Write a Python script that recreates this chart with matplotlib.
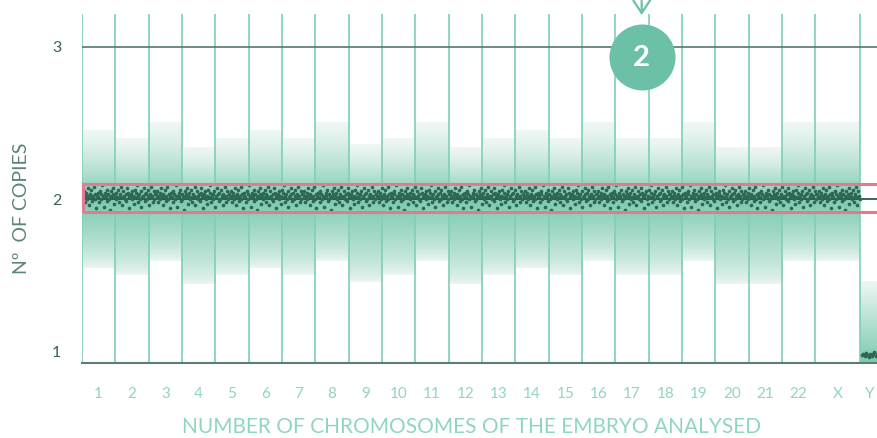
import matplotlib
matplotlib.use("Agg")
import matplotlib.pyplot as plt
import numpy as np
from matplotlib.colors import LinearSegmentedColormap
from matplotlib.patches import Rectangle

# Chromosome data
chromosomes = [str(i) for i in range(1, 23)] + ["X", "Y"]
# left / right edge of each chromosome column (in chromosome-width units)
col_left = list(range(0, 22)) + [22, 23.35]
col_right = list(range(1, 23)) + [23.35, 23.85]

# upper / lower edge of the gradient band around 2 copies
band_top = [2.45, 2.40, 2.50, 2.34, 2.40, 2.45, 2.40, 2.50, 2.355, 2.40, 2.50,
            2.34, 2.40, 2.45, 2.40, 2.50, 2.40, 2.40, 2.50, 2.34, 2.34, 2.50, 2.50]
band_bottom = [1.55, 1.50, 1.59, 1.44, 1.50, 1.55, 1.50, 1.59, 1.455, 1.50, 1.59,
               1.44, 1.50, 1.55, 1.50, 1.59, 1.50, 1.50, 1.59, 1.44, 1.44, 1.59, 1.59]
y_band_top = 1.46  # Y chromosome, single copy

# copy-number dot offsets (hundredths around 2 copies)
dot_offsets = [3, 1, 5, -2, 2, 4, 0, 7, 2, -4, 3, 1, 6, -1, 2, 8, 0, 3, -6, 2,
               4, 1, -2, 5, 3, 0, 9, 2, -5, 1, 4, 2, 6, -1, 3, 0, 2, -7, 5, 1,
               3, 7, -3, 2, 4, 0, 1, 6, -2, 3, 2, 8, -4, 1, 5, 2, 0, 3, -1, 7,
               4, 2, -6, 1, 3, 5, 0, 2, -3, 6, 1, 4, 9, -2, 2, 3, 0, 5, -5, 1,
               2, 7, 3, -1, 4, 0, 6, 2, -4, 3, 1, 8, 2, -2, 5, 0, 3]
y_dots = [0.975, 0.985, 0.97, 0.99, 0.975, 0.965, 0.985, 0.97, 0.98, 0.995,
          0.97, 0.98]

dots_per_col = 44

teal = "#6cc0a8"
pale = "#eef7f3"
strong = "#7ccab0"
dot_color = "#2f6654"

fig = plt.figure(figsize=(8.77, 4.38), dpi=100)
ax = fig.add_axes([82 / 877, 75 / 438, 795 / 877, 349 / 438])
ax.set_xlim(0, 23.85)
ax.set_ylim(0.923, 3.215)

cmap = LinearSegmentedColormap.from_list("band", [pale, strong])
n = 200
frac = np.linspace(0, 1, n)  # 0 at the row nearest y=2

# gradient bands (origin lower: row 0 at the bottom of each extent)
for i in range(23):
    x0, x1 = col_left[i], col_right[i]
    up = ((1 - frac) ** 1.3).reshape(-1, 1)
    ax.imshow(up, extent=[x0, x1, 2, band_top[i]], origin="lower", cmap=cmap,
              vmin=0, vmax=1, aspect="auto", zorder=1, interpolation="bilinear")
    down = ((1 - frac[::-1]) ** 0.7).reshape(-1, 1)
    ax.imshow(down, extent=[x0, x1, band_bottom[i], 2], origin="lower", cmap=cmap,
              vmin=0, vmax=1, aspect="auto", zorder=1, interpolation="bilinear")
yb = ((1 - frac) ** 1.0).reshape(-1, 1)
ax.imshow(yb, extent=[col_left[23], col_right[23], 0.923, y_band_top],
          origin="lower", cmap=cmap, vmin=0, vmax=1, aspect="auto", zorder=1,
          interpolation="bilinear")

# column separators
ax.vlines(col_left, 0.923, 3.215, color="#7fcfb4", lw=1.2, zorder=2)

# reference lines
ax.axhline(3, color="#55786b", lw=1.2, zorder=2)
ax.axhline(2, color="#1d4a3c", lw=1.2, zorder=3)

# dots
xs, ys = [], []
k = 0
for i in range(23):
    x0, x1 = col_left[i], col_right[i]
    m = int(round(dots_per_col * (x1 - x0)))
    for j in range(m):
        xs.append(x0 + (j + 0.5) * (x1 - x0) / m)
        ys.append(2 + dot_offsets[k % len(dot_offsets)] / 100)
        k += 1
ax.scatter(xs, ys, s=7, color=dot_color, lw=0, zorder=4)
yx = np.linspace(col_left[23] + 0.05, 23.85, len(y_dots))
ax.scatter(yx, y_dots, s=7, color=dot_color, lw=0, zorder=4, clip_on=False)

# highlight box around 2 copies
ax.add_patch(Rectangle((0.03, 1.915), 30, 0.183, fill=False, ec="#e07b90",
                       lw=2.2, zorder=5, clip_on=False))

# badge with arrow
ax.scatter([16.79], [2.93], s=2260, color=teal, lw=0, zorder=6, clip_on=False)
ax.text(16.79, 2.925, "2", color="white", fontsize=21, fontweight="bold",
        ha="center", va="center", zorder=7, family="Lato")
ax.annotate("", xy=(16.79, 3.19), xytext=(16.79, 3.32),
            arrowprops=dict(arrowstyle="->,head_length=0.9,head_width=0.6",
                            color=teal, lw=1.6), annotation_clip=False, zorder=7)

# axes styling
for s in ["top", "right", "left"]:
    ax.spines[s].set_visible(False)
ax.spines["bottom"].set_color("#5f7d73")
ax.spines["bottom"].set_linewidth(1.5)
ax.spines["bottom"].set_zorder(6)

centers = [(col_left[i] + col_right[i]) / 2 for i in range(22)] + [22.68, 23.64]
ax.set_xticks(centers)
ax.set_xticklabels(chromosomes, color="#8fd6be", fontsize=11, family="Lato")
ax.set_yticks([1, 2, 3])
ax.set_yticklabels(["1", "2", "3"], color="#3f5d53", fontsize=11.5, family="Lato")
ax.tick_params(axis="both", length=0)
ax.tick_params(axis="x", pad=17)
ax.tick_params(axis="y", pad=15)

fig.text(472 / 877, 11 / 438, "NUMBER OF CHROMOSOMES OF THE EMBRYO ANALYSED",
         ha="center", va="center", color="#8fd6be", fontsize=15, family="Lato")
fig.text(22 / 877, 1 - 208 / 438, "Nº  OF COPIES", rotation=90, ha="center",
         va="center", color="#5a8577", fontsize=14, family="Lato")

fig.savefig("out.png", dpi=100)
